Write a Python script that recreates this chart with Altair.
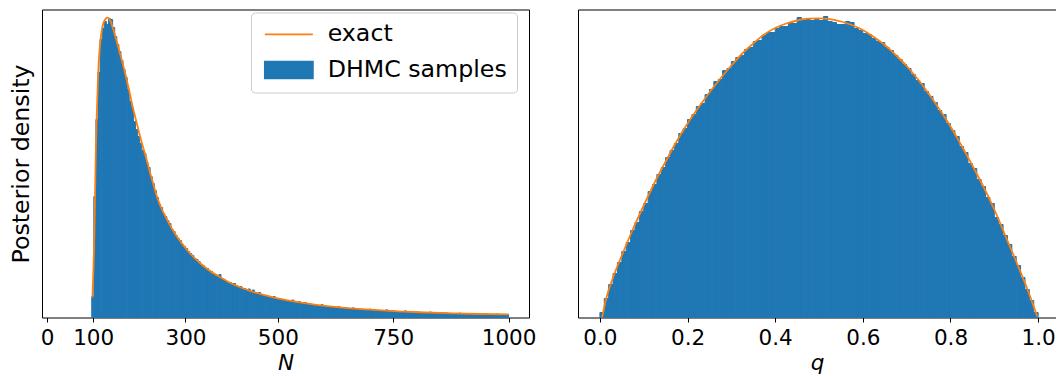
import altair as alt
import pandas as pd

# ---------------- data ----------------
series_names = ["exact", "DHMC samples"]
series_colors = ["#ff7f0e", "#1f77b4"]
series_shapes = ["M-4,0H4", "M-4,-1.4H4V1.4H-4Z"]

# left panel: histogram of N (200 equal bins starting at 97, width 4.515)
n_bin_start = 97.0
n_bin_width = 4.515
n_hist = [
    21, 121, 198, 245, 278, 289, 296, 293, 299, 298,
    290, 281, 273, 266, 257, 248, 240, 228, 216, 209,
    196, 188, 181, 174, 167, 164, 155, 150, 141, 134,
    127, 120, 113, 110, 104, 101, 97, 94, 88, 86,
    82, 79, 77, 73, 71, 69, 66, 64, 62, 59,
    58, 56, 53, 52, 50, 49, 47, 46, 44, 43,
    41, 43, 39, 38, 36, 35, 35, 34, 34, 32,
    31, 31, 29, 29, 27, 28.5, 26, 27.5, 25, 24,
    25, 23, 22, 22, 21, 21, 20, 21, 19, 19,
    18, 18, 18, 16, 17, 16, 17.5, 16, 15, 16,
    15, 14, 15, 14, 14, 13, 12.3, 13, 12, 12,
    12.8, 12, 11, 11, 11, 10.4, 10, 10, 10.8, 10,
    10, 9.5, 9.5, 9, 9, 9.6, 9, 8.5, 8.5, 7.6,
    8, 8, 8, 8.3, 7.5, 7.5, 7.5, 7, 7, 7,
    7, 7.6, 6.5, 6.5, 6.5, 6.5, 5.6, 6, 6, 6,
    6.6, 6, 5.5, 5.5, 5.5, 5.5, 5.5, 5, 4.6, 5,
    5, 5, 5.5, 5, 4.5, 4.5, 4.5, 4.5, 4.5, 4.5,
    4.5, 4, 4, 4, 4, 4, 4.4, 4, 4, 4,
    3.5, 3.5, 3.2, 3.5, 3.5, 3.9, 3.5, 3.5, 3.5, 3.5,
    3, 3, 3, 3, 3.4, 3, 3, 2.7, 3, 3,
]

# left panel: exact posterior density of N
n_exact_x = [98.5, 100, 101.5, 102.5, 103.7, 105, 106, 108, 111, 114.6,
             119, 124, 131, 137, 143, 150, 157, 164, 171, 178,
             185, 193, 200, 207, 214, 222, 230, 240, 250, 260,
             275, 290, 310, 330, 350, 377, 400, 420, 440, 460,
             480, 500, 540, 580, 640, 700, 760, 820, 880, 940, 1000]
n_exact_y = [20, 40, 62, 80, 111, 145, 170, 205, 245, 271,
             288, 296.5, 299.8, 297, 289, 278, 266, 254, 241, 227,
             212, 197, 184, 172, 161, 147, 134, 118.5, 107, 98,
             85.5, 75.5, 64, 55, 47.5, 39.8, 34, 30, 26.7, 23.8,
             21.3, 19.1, 15.6, 12.9, 9.9, 7.8, 6.2, 5.0, 4.2, 3.5, 3.1]

# right panel: histogram of q (100 bins of width 0.01 on [0, 1])
q_bin_start = 0.0
q_bin_width = 0.01
q_hist = [
    5, 19, 33, 44, 55, 66, 75, 87, 95, 106,
    114, 126, 133, 143, 150, 160, 167, 174, 184, 189,
    198, 203, 211, 214, 223, 228, 236, 238, 247, 249,
    256, 260, 262, 268, 270, 276, 277, 282, 285, 285,
    289, 291, 291, 295, 294, 300, 297, 298, 297, 298,
    297, 301, 296, 295, 293, 293, 296, 295, 289, 287,
    284, 283, 279, 276, 275, 270, 267, 262, 258, 253,
    249, 243, 237, 234, 226, 221, 215, 207, 203, 194,
    187, 181, 171, 165, 154, 149, 138, 131, 120, 114,
    100, 93, 82, 73, 61, 52, 40, 28, 17, 5,
]

# right panel: exact posterior density of q
q_exact_x = [0.005, 0.015, 0.03, 0.05, 0.075, 0.1, 0.125, 0.15, 0.175, 0.2,
             0.225, 0.25, 0.275, 0.3, 0.325, 0.35, 0.375, 0.4, 0.425, 0.45,
             0.475, 0.5, 0.525, 0.55, 0.575, 0.6, 0.625, 0.65, 0.675, 0.7,
             0.725, 0.75, 0.775, 0.8, 0.825, 0.85, 0.875, 0.9, 0.925, 0.95,
             0.975, 0.99, 0.998]
q_exact_y = [0, 20, 40, 62, 88, 112, 135, 156, 176, 194,
             210, 225, 239, 252, 264, 274, 283, 289.5, 294, 297,
             298.8, 299.2, 298.3, 296, 292.5, 287.5, 280.5, 272.5, 262.5, 251.5,
             238.5, 224, 208, 191, 172, 152, 131, 108, 82, 56,
             29, 11, 1]

n_ticks = [0, 100, 300, 500, 750, 1000]
q_ticks = [0.0, 0.2, 0.4, 0.6, 0.8, 1.0]
n_domain = [-10.8, 1044.2]
q_domain = [-0.05, 1.0408]
y_domain = [0, 308]

# ---------------- tables ----------------
n_hist_df = pd.DataFrame({
    "lo": [n_bin_start + i * n_bin_width for i in range(len(n_hist))],
    "hi": [n_bin_start + (i + 1) * n_bin_width for i in range(len(n_hist))],
    "dens": n_hist,
    "base": [0.0] * len(n_hist),
})
n_exact_df = pd.DataFrame({"x": n_exact_x, "dens": n_exact_y})
q_hist_df = pd.DataFrame({
    "lo": [q_bin_start + i * q_bin_width for i in range(len(q_hist))],
    "hi": [q_bin_start + (i + 1) * q_bin_width for i in range(len(q_hist))],
    "dens": q_hist,
    "base": [0.0] * len(q_hist),
})
q_exact_df = pd.DataFrame({"x": q_exact_x, "dens": q_exact_y})
legend_df = pd.DataFrame({"series": series_names})

FONT = "DejaVu Sans"
FS_TICK = 21.5
FS_TITLE = 23.7
WL, WR, H = 487, 478, 308
BLUE, ORANGE = series_colors[1], series_colors[0]

legend = alt.Legend(
    title=None, orient="none", legendX=209, legendY=3,
    padding=10, strokeColor="#cccccc", fillColor="white", cornerRadius=4,
    labelFont=FONT, labelFontSize=FS_TITLE, labelColor="black", labelOffset=27,
    labelLimit=400,
    symbolSize=144, symbolOffset=16, rowPadding=10.7, symbolStrokeWidth=1.8,
    symbolOpacity=1,
)


def x_axis(title, values, fmt, domain):
    return alt.Axis(values=values, format=fmt, title=title, grid=False,
                    domain=domain, domainColor="black", domainWidth=1,
                    tickSize=4.5, tickColor="black", tickWidth=1, labelPadding=5,
                    labelFont=FONT, labelFontSize=FS_TICK, labelColor="black",
                    labelFlush=False, labelOverlap=False,
                    titleFont=FONT, titleFontSize=FS_TICK, titleColor="black",
                    titleFontStyle="italic", titleFontWeight="normal", titlePadding=4)


y_left_axis = alt.Axis(title="Posterior density", labels=False, ticks=False, domain=False,
                       grid=False, titleFont=FONT, titleFontSize=FS_TITLE,
                       titleColor="black", titleFontWeight="normal", titlePadding=8.5)

xs_n = alt.Scale(domain=n_domain, nice=False, zero=False)
xs_q = alt.Scale(domain=q_domain, nice=False, zero=False)
ys = alt.Scale(domain=y_domain, nice=False, zero=False)

left_bars = alt.Chart(n_hist_df).mark_rect(color=BLUE, stroke=BLUE, strokeWidth=1).encode(
    x=alt.X("lo:Q", scale=xs_n, axis=x_axis("N", n_ticks, "d", False)),
    x2="hi:Q",
    y=alt.Y("dens:Q", scale=ys, axis=y_left_axis),
    y2="base:Q",
)
left_line = alt.Chart(n_exact_df).mark_line(color=ORANGE, strokeWidth=1.8,
                                            interpolate="monotone").encode(
    x=alt.X("x:Q", scale=xs_n),
    y=alt.Y("dens:Q", scale=ys),
)
legend_layer = alt.Chart(legend_df).mark_point(filled=True, opacity=0).encode(
    fill=alt.Fill("series:N", scale=alt.Scale(domain=series_names, range=series_colors),
                  legend=legend),
    stroke=alt.Stroke("series:N", scale=alt.Scale(domain=series_names, range=series_colors),
                      legend=legend),
    shape=alt.Shape("series:N", scale=alt.Scale(domain=series_names, range=series_shapes),
                    legend=legend),
)
left = alt.layer(left_bars, left_line, legend_layer).properties(
    width=WL, height=H, view=alt.ViewBackground(stroke="black", strokeWidth=1)
)

right_bars = alt.Chart(q_hist_df).mark_rect(color=BLUE, stroke=BLUE, strokeWidth=1).encode(
    x=alt.X("lo:Q", scale=xs_q, axis=x_axis("q", q_ticks, ".1f", True)),
    x2="hi:Q",
    y=alt.Y("dens:Q", scale=ys,
            axis=alt.Axis(labels=False, ticks=False, domain=True, domainColor="black",
                          domainWidth=1, title=None, grid=False)),
    y2="base:Q",
)
right_line = alt.Chart(q_exact_df).mark_line(color=ORANGE, strokeWidth=1.8,
                                             interpolate="monotone").encode(
    x=alt.X("x:Q", scale=xs_q,
            axis=alt.Axis(orient="top", labels=False, ticks=False, domain=True,
                          domainColor="black", domainWidth=1, title=None, grid=False)),
    y=alt.Y("dens:Q", scale=ys),
)
right = alt.layer(right_bars, right_line).resolve_axis(x="independent").properties(
    width=WR, height=H, view=alt.ViewBackground(stroke=None)
)

chart = alt.hconcat(left, right, spacing=49, bounds="flush").resolve_scale(
    fill="independent", stroke="independent", shape="independent"
).properties(
    padding={"left": 1, "top": 0.5, "right": 0, "bottom": 0}
).configure_view(stroke=None)

chart.save("out.html", embed_options={"renderer": "svg", "actions": False})
